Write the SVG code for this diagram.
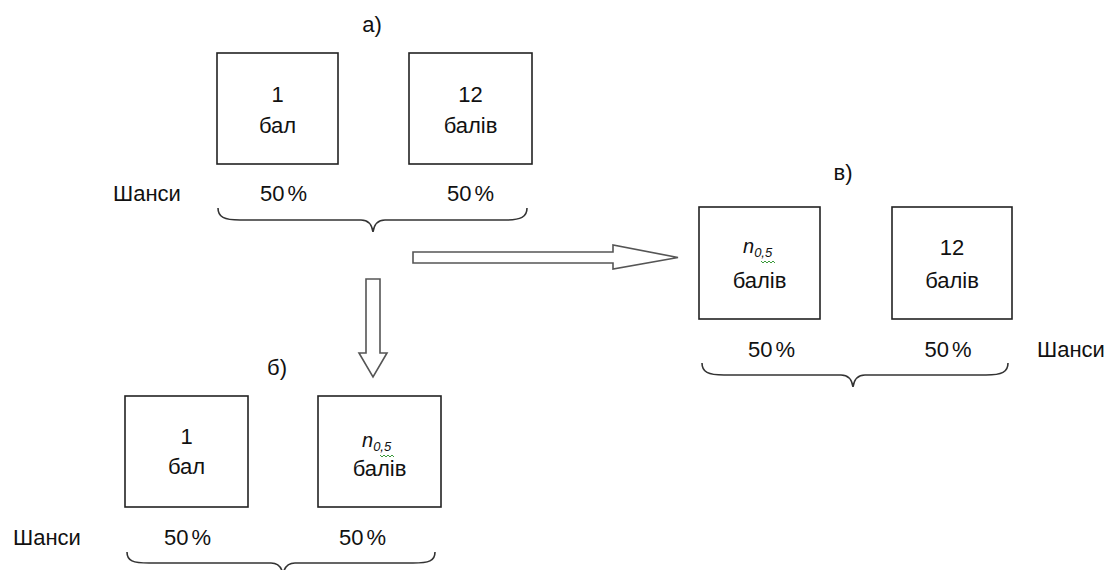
<svg xmlns="http://www.w3.org/2000/svg" width="1107" height="570" viewBox="0 0 1107 570">
<style>
.box{fill:#fff;stroke:#222;stroke-width:1.6}
.t{font-family:"Liberation Sans",Arial,sans-serif;font-size:22px;fill:#111;text-anchor:middle}
.p{word-spacing:-3px}
.l{font-family:"Liberation Sans",Arial,sans-serif;font-size:22px;fill:#111}
.brace{fill:none;stroke:#333;stroke-width:1.6}
.arrow{fill:#fff;stroke:#555;stroke-width:1.6}
.n{font-family:"Liberation Sans",Arial,sans-serif;font-size:20px;font-style:italic;fill:#111}
.sub{font-size:13px}
.sq{fill:none;stroke:#3a9a3a;stroke-width:1}
</style>
<rect width="1107" height="570" fill="#fff"/>

<!-- a) -->
<text class="t" x="372" y="32">а)</text>
<g id="a1">
<rect class="box" x="217" y="53" width="121" height="111"/>
<text class="t" x="277.5" y="102">1</text>
<text class="t" x="277.5" y="133">бал</text>
</g>
<g id="a2">
<rect class="box" x="409" y="53" width="123" height="111"/>
<text class="t" x="470.5" y="102">12</text>
<text class="t" x="470.5" y="133">балів</text>
</g>
<text class="l" x="113" y="201">Шанси</text>
<text class="t p" x="283.5" y="201">50 %</text>
<text class="t p" x="470.5" y="201">50 %</text>
<path class="brace" d="M218,208 C218,217 224,220 240,220 L361,220 C369,220 372,225 373,232 C374,225 377,220 385,220 L505,220 C521,220 527,217 527,208"/>

<!-- б) -->
<text class="t" x="277" y="375">б)</text>
<g id="b1">
<rect class="box" x="125" y="396" width="123" height="111"/>
<text class="t" x="186.5" y="444">1</text>
<text class="t" x="186.5" y="474">бал</text>
</g>
<g id="b2">
<rect class="box" x="318" y="396" width="123" height="111"/>
<text class="n" x="362" y="447">n<tspan class="sub" dy="4">0,5</tspan></text>
<path class="sq" d="M380,455 l2,2 l2,-2 l2,2 l2,-2 l2,2 l2,-2 l2,2"/>
<text class="t" x="379.5" y="476">балів</text>
</g>
<text class="l" x="13" y="545">Шанси</text>
<text class="t p" x="187.5" y="545">50 %</text>
<text class="t p" x="362.5" y="545">50 %</text>
<path class="brace" d="M127,552 C127,561 133,563 149,563 L271,563 C279,563 282,568 283,575 C284,568 287,563 295,563 L413,563 C429,563 435,561 435,552"/>

<!-- в) -->
<text class="t" x="843" y="180">в)</text>
<g id="c1">
<rect class="box" x="699" y="207" width="121" height="112"/>
<text class="n" x="743" y="253">n<tspan class="sub" dy="4">0,5</tspan></text>
<path class="sq" d="M761,261 l2,2 l2,-2 l2,2 l2,-2 l2,2 l2,-2 l2,2"/>
<text class="t" x="759.5" y="288">балів</text>
</g>
<g id="c2">
<rect class="box" x="892" y="207" width="120" height="112"/>
<text class="t" x="952" y="255">12</text>
<text class="t" x="952" y="288">балів</text>
</g>
<text class="t p" x="771.5" y="357">50 %</text>
<text class="t p" x="948" y="357">50 %</text>
<text class="l" x="1037" y="357">Шанси</text>
<path class="brace" d="M702,363 C702,372 708,375 724,375 L841,375 C849,375 852,380 853,387 C854,380 857,375 865,375 L986,375 C1002,375 1008,372 1008,363"/>

<!-- connectors -->
<g id="connectors">
<polygon class="arrow" points="413,252 613,252 613,245 678,257.5 613,269 613,263 413,263"/>
<polygon class="arrow" points="366,279 380,279 380,353 387,353 373,377 359,353 366,353"/>
</g>
</svg>
